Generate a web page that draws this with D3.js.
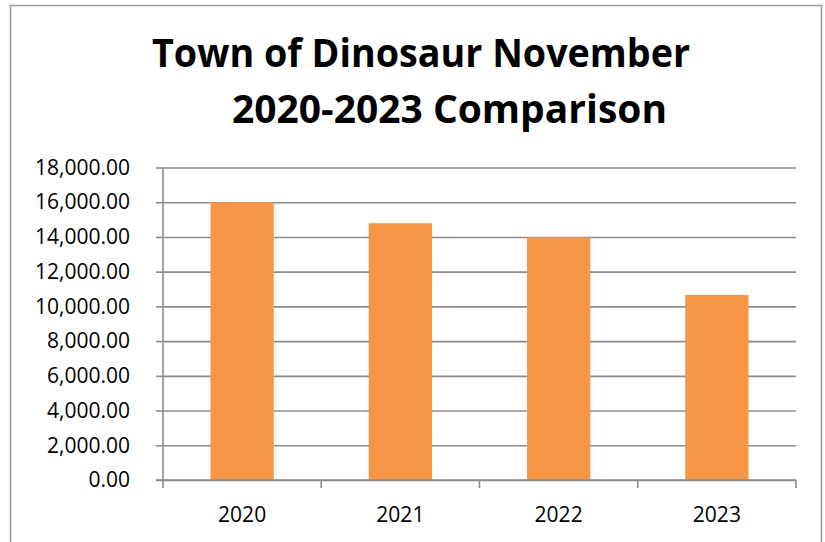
<!DOCTYPE html>
<html>
<head>
<meta charset="utf-8">
<script src="https://cdn.jsdelivr.net/npm/d3@7"></script>
<style>
  body { margin: 0; background: #fff; }
  text { font-family: "Open Sans", "Liberation Sans", Arial, sans-serif; }
</style>
</head>
<body>
<div id="chart"></div>
<script>
// data
var years = ["2020", "2021", "2022", "2023"];
var totals = [16000, 14790, 13980, 10660];
var yTicks = [0, 2000, 4000, 6000, 8000, 10000, 12000, 14000, 16000, 18000];
var titleLines = ["Town of Dinosaur November", "2020-2023 Comparison"];

var svgWidth = 825;
var svgHeight = 542;

var margin = { top: 167.5, right: 29, bottom: 62, left: 163 };
var width = svgWidth - margin.left - margin.right;
var height = svgHeight - margin.top - margin.bottom;

var svg = d3.select("#chart")
  .append("svg")
  .attr("width", svgWidth)
  .attr("height", svgHeight);

// outer frame
svg.append("rect")
  .attr("x", 10.5)
  .attr("y", 5.5)
  .attr("width", 811)
  .attr("height", 560)
  .attr("fill", "none")
  .attr("stroke", "#9a9a9a")
  .attr("stroke-width", 1.5);

// title, second line is indented like in the original
var titlePos = [{ x: 152, y: 67, len: 538 }, { x: 232, y: 123, len: 435 }];
svg.selectAll(".title")
  .data(titleLines)
  .enter()
  .append("text")
  .attr("class", "title")
  .attr("x", (d, i) => titlePos[i].x)
  .attr("y", (d, i) => titlePos[i].y)
  .attr("textLength", (d, i) => titlePos[i].len)
  .attr("lengthAdjust", "spacingAndGlyphs")
  .attr("font-size", 39)
  .attr("font-weight", "bold")
  .attr("fill", "#000")
  .text(d => d);

var chart = svg.append("g")
  .attr("transform", `translate(${margin.left}, ${margin.top})`);

var xScale = d3.scaleBand()
  .domain(years)
  .range([0, width])
  .padding(0);

var yScale = d3.scaleLinear()
  .domain([0, 18000])
  .range([height, 0]);

// gridlines
var grid = chart.append("g")
  .call(d3.axisLeft(yScale).tickValues(yTicks).tickSize(-width).tickFormat(""));
grid.select(".domain").remove();
grid.selectAll("line")
  .attr("stroke", "#8c8c8c")
  .attr("stroke-width", 1.6);

// bars
var bw = xScale.bandwidth();
chart.selectAll(".bar")
  .data(totals)
  .enter()
  .append("rect")
  .attr("class", "bar")
  .attr("x", (d, i) => xScale(years[i]) + bw * 0.3)
  .attr("width", bw * 0.4)
  .attr("y", d => yScale(d))
  .attr("height", d => height - yScale(d))
  .attr("fill", "#F79646");

// y axis
var leftAxis = chart.append("g")
  .call(d3.axisLeft(yScale).tickValues(yTicks).tickSize(7).tickPadding(26).tickFormat(d3.format(",.2f")));
leftAxis.select(".domain").attr("stroke", "#8c8c8c").attr("stroke-width", 1.6).attr("d", `M0,0V${height}`);
leftAxis.selectAll("line").attr("stroke", "#8c8c8c").attr("stroke-width", 1.6);
leftAxis.selectAll("text")
  .attr("font-size", 21)
  .attr("fill", "#000")
  .attr("font-family", "Open Sans, Liberation Sans, Arial, sans-serif");

// x axis: ticks at category boundaries
var bottomAxis = chart.append("g")
  .attr("transform", `translate(0, ${height})`);
bottomAxis.append("line")
  .attr("x1", -7).attr("x2", width)
  .attr("stroke", "#8c8c8c").attr("stroke-width", 1.6);
var edges = years.map(y => xScale(y)).concat([width]);
bottomAxis.selectAll(".tick-x")
  .data(edges)
  .enter()
  .append("line")
  .attr("x1", d => d).attr("x2", d => d)
  .attr("y1", 0).attr("y2", 8)
  .attr("stroke", "#8c8c8c").attr("stroke-width", 1.6);
bottomAxis.selectAll(".label-x")
  .data(years)
  .enter()
  .append("text")
  .attr("x", d => xScale(d) + bw / 2)
  .attr("y", 42)
  .attr("text-anchor", "middle")
  .attr("font-size", 21)
  .attr("fill", "#000")
  .text(d => d);
</script>
</body>
</html>
